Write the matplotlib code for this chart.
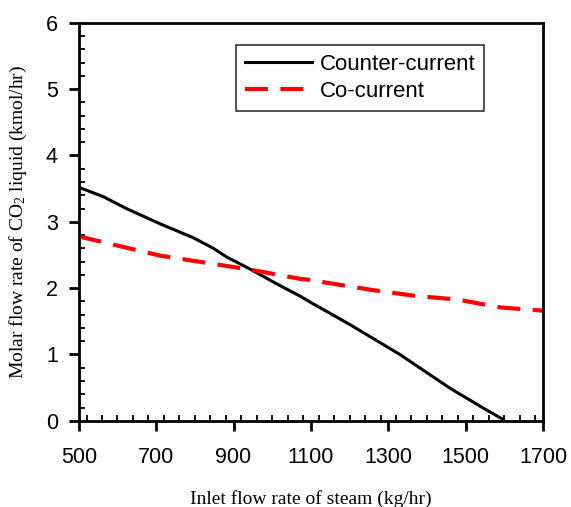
import numpy as np
import matplotlib
matplotlib.use("Agg")
import matplotlib.pyplot as plt
from matplotlib.ticker import MultipleLocator

# Steam inlet flow (kg/hr) vs liquid CO2 molar flow (kmol/hr)
counter_steam = [500, 563, 623, 710, 796, 848, 882, 942, 1010, 1072, 1098,
                 1201, 1330, 1460, 1546, 1594, 1600]
counter_co2 = [3.52, 3.38, 3.20, 2.97, 2.76, 2.60, 2.47, 2.29, 2.07, 1.88,
               1.79, 1.45, 1.00, 0.49, 0.19, 0.03, 0.0]

co_steam = [500, 710, 865, 942, 1072, 1089, 1261, 1374, 1477, 1589, 1700]
co_co2 = [2.78, 2.49, 2.35, 2.28, 2.14, 2.13, 1.97, 1.88, 1.83, 1.71, 1.66]

x_ticks = [500, 700, 900, 1100, 1300, 1500, 1700]
y_ticks = [0, 1, 2, 3, 4, 5, 6]

plt.rcParams["font.family"] = ["Liberation Sans", "DejaVu Sans"]
plt.rcParams["mathtext.fontset"] = "custom"
plt.rcParams["mathtext.rm"] = "Liberation Serif"
plt.rcParams["mathtext.it"] = "Liberation Serif"

fig = plt.figure(figsize=(5.71, 5.07), dpi=100)
ax = fig.add_axes([0.138, 0.170, 0.813, 0.785])

ax.plot(counter_steam, counter_co2, color="black", lw=2.2, label="Counter-current")
ax.plot(co_steam, co_co2, color="red", lw=3, dashes=(5.5, 3), label="Co-current")

ax.set_xlim(500, 1700)
ax.set_ylim(0, 6)
ax.set_xticks(x_ticks)
ax.set_yticks(y_ticks)
ax.xaxis.set_minor_locator(MultipleLocator(40))
ax.yaxis.set_minor_locator(MultipleLocator(0.2))
ax.tick_params(which="major", direction="out", length=7, width=2,
               labelsize=15.5)
ax.tick_params(axis="x", which="major", pad=12)
ax.tick_params(axis="y", which="major", pad=8)
ax.tick_params(which="minor", direction="in", length=4.5, width=1.3)
for s in ax.spines.values():
    s.set_linewidth(2)

serif = {"family": "Liberation Serif", "size": 14}
ax.set_xlabel("Inlet flow rate of steam (kg/hr)", fontdict=serif, labelpad=16)
ax.set_ylabel("Molar flow rate of CO$_2$ liquid (kmol/hr)", fontdict=serif,
              labelpad=12)

leg = ax.legend(loc="upper right", bbox_to_anchor=(0.873, 0.945), fontsize=16,
                handlelength=3.0, frameon=True, fancybox=False,
                borderaxespad=0, borderpad=0.4, labelspacing=0.3,
                handletextpad=0.35)
leg.get_frame().set_edgecolor("black")
leg.get_frame().set_linewidth(1.2)

fig.savefig("out.png", dpi=100)
